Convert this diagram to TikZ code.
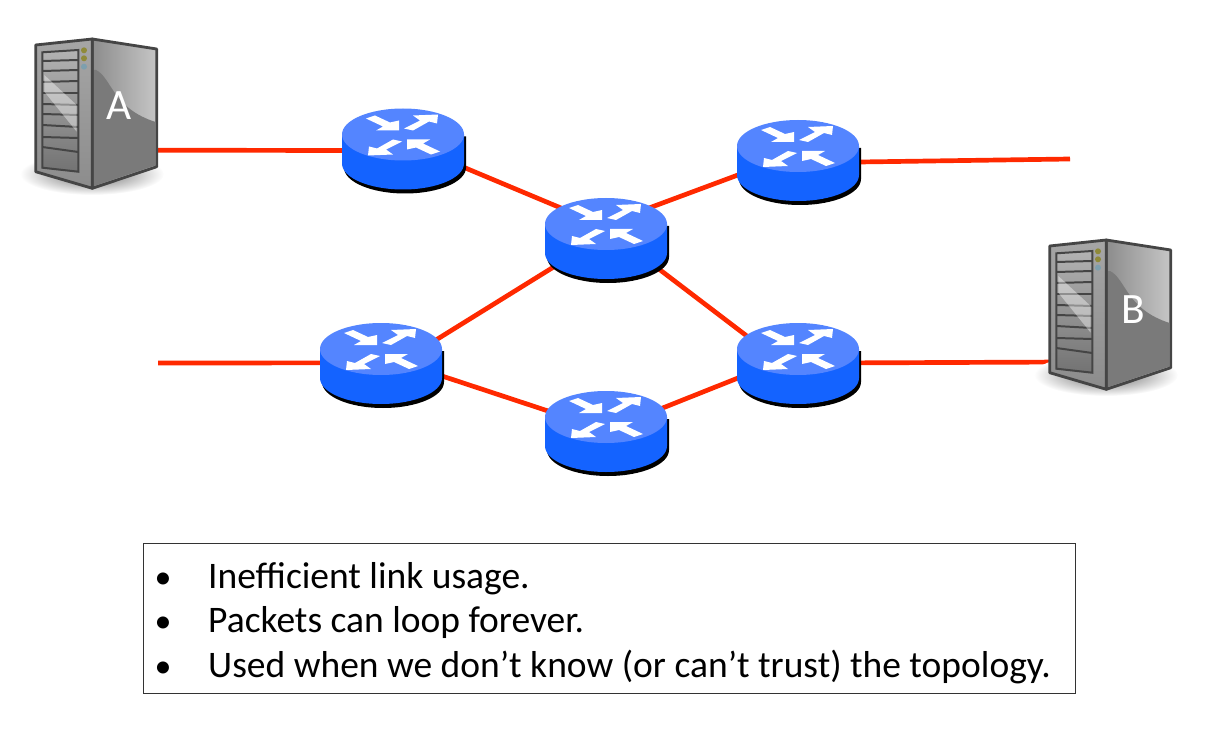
\documentclass[tikz,border=0pt]{standalone}
\usepackage{fontspec}
\setmainfont{Carlito}
\usetikzlibrary{shapes.geometric}
\definecolor{router top}{rgb}{0.33, 0.52, 1.0}
\definecolor{router side}{rgb}{0.08, 0.39, 1.0}
\definecolor{link red}{rgb}{1.0, 0.16, 0.0}
\definecolor{server edge}{rgb}{0.27, 0.27, 0.27}
\tikzset{
	router/.style = {ellipse, minimum width = 3.66cm, minimum height = 2.58cm, inner sep = 0},
	server/.style = {rectangle, minimum width = 3.6cm, minimum height = 4.44cm, inner sep = 0},
	link/.style = {link red, line width = 4pt},
	servername/.style = {text = white, font = \fontsize{37}{40}\selectfont},
	bullet text/.style = {anchor = base west, inner sep = 0, font = \fontsize{32}{38}\selectfont},
	bullet dot/.style = {anchor = base, inner sep = 0, font = \fontsize{29}{32}\selectfont},
	router arrows/.pic = {
		\fill[white] (-37, -16) -- (-28, -19) -- (-13, -12) -- (-4, -14) -- (-4, -4) -- (-27, -4) -- (-20, -8) -- cycle;
		\fill[white] (1, -6) -- (17, -14) -- (10, -19) -- (35, -20) -- (34, -11) -- (26, -13) -- (10, -4) -- cycle;
	},
	router icon/.pic = {
		% shadow, then body, then top
		\fill[black] (-59, -14) -- (-59, 17) arc (180:0:61 and 26) -- (63, -14) -- cycle;
		\fill[router side] (-61, -16) -- (-61, 13) arc (180:0:61 and 26) -- (61, -16) -- cycle;
		\fill[router top] (0, -16) ellipse (61 and 26);
		\pic at (0, -16) {router arrows};
		\pic[rotate = 180] at (0, -15) {router arrows};
	},
	server icon/.pic = {
		\begin{scope}[shift = {(-97, -114)}]
			% floor shadow
			\shade[inner color = black!60, outer color = white] (92, 174) ellipse (72 and 21);
			% right face
			\shade[left color = gray!90, right color = gray!45, draw = server edge, line width = 2.4pt, line join = round]
				(92.3, 39) -- (156.7, 49) -- (156.7, 166.7) -- (92.3, 188.3) -- cycle;
			\fill[black!52] (96, 70) .. controls (112, 78) and (112, 108) .. (155.5, 122) -- (155.5, 165.5) -- (94, 186) -- (94, 70) -- cycle;
			% front face
			\shade[top color = gray!70, bottom color = gray!90, draw = server edge, line width = 2.4pt, line join = round]
				(35.7, 45) -- (92.3, 39) -- (92.3, 188.3) -- (35.7, 171.7) -- cycle;
			\shade[top color = gray!60, bottom color = black!55, draw = server edge, line width = 1.7pt]
				(42.3, 52.3) -- (78.3, 50) -- (78.3, 171.7) -- (42.3, 167.7) -- cycle;
			% drive bays
			\foreach \ya/\yb in {61/60, 71/70, 82/81, 93/93, 104/105, 114/115, 125/127, 137/138, 147/152}
				\draw[server edge, line width = 1.7pt] (42.3, \ya) -- (78.3, \yb);
			\fill[white, opacity = 0.4] (44.3, 75) -- (76.7, 105) -- (76.7, 131.7) -- (44.3, 91.7) -- cycle;
			% lights
			\fill[olive!60!gray] (84, 50.3) circle (3);
			\fill[olive!60!gray] (84, 58.3) circle (3);
			\fill[cyan!30!gray] (84, 66.7) circle (3);
		\end{scope}
	}
}

\begin{document}
\begin{tikzpicture}[x = 0.03cm, y = -0.03cm]
	\useasboundingbox (0, 0) rectangle (1207, 735);
	% the places of things
	\node[server] (server a) at (97, 114) {};
	\node[server] (server b) at (1111, 315) {};
	\node[router] (router one) at (403, 150.5) {};
	\node[router] (router two) at (798, 162) {};
	\node[router] (router mid) at (606, 240) {};
	\node[router] (router left) at (381, 365) {};
	\node[router] (router low) at (606, 433) {};
	\node[router] (router right) at (798, 365) {};
	\coordinate (end left) at (158, 363);
	\coordinate (end right) at (1070, 159);
	% links go under the icons
	\draw[link] (server a.-31) -- (router one.west);
	\draw[link] (router one.-15) -- (router mid.144);
	\draw[link] (router mid.37) -- (router two.-168);
	\draw[link] (router two.east) -- (end right);
	\draw[link] (end left) -- (router left.178);
	\draw[link] (router left.24) -- (router mid.-153);
	\draw[link] (router left.-10) -- (router low.159);
	\draw[link] (router mid.-28) -- (router right.151);
	\draw[link] (router low.24) -- (router right.-168);
	\draw[link] (router right.2) -- (server b.-142);
	% icons
	\foreach \name in {router one, router two, router mid, router left, router low, router right}
		\pic at (\name) {router icon};
	\pic at (server a) {server icon};
	\pic at (server b) {server icon};
	\node[servername] (label a) at (119, 106) {A};
	\node[servername] (label b) at (1133, 310) {B};
	% list below
	\node[draw = black!80, line width = 0.8pt, minimum width = 27.96cm, minimum height = 4.5cm, inner sep = 0] (list box) at (609, 618) {};
	\foreach \ypos/\name/\line in {588/one/Inefficient link usage., 632/two/Packets can loop forever., 677/three/Used when we don’t know (or can’t trust) the topology.} {
		\node[bullet dot] (bullet \name) at (163, \ypos) {•};
		\node[bullet text] (item \name) at (208, \ypos) {\line};
	}
\end{tikzpicture}
\end{document}
